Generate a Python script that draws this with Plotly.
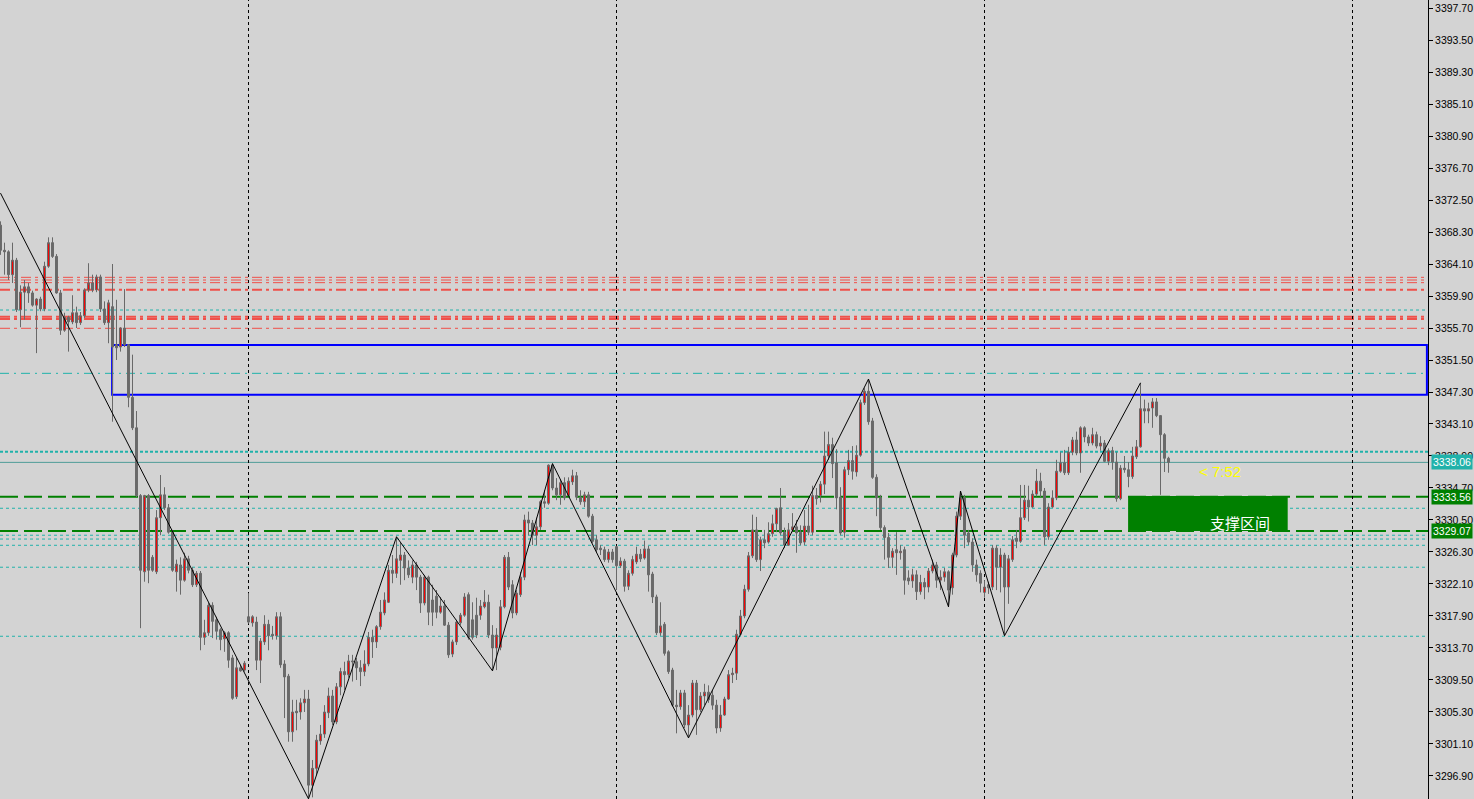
import plotly.graph_objects as go

# ---------------- data ----------------
bars = list(range(293))

opens = [
    3369.2, 3365.9, 3365.7, 3362.7, 3364.6, 3358.1, 3360.4, 3361.1, 3360.3, 3358.7,
    3359.5, 3358.2, 3363.8, 3366.9, 3365.1, 3360.3, 3355.4, 3357.1, 3356.5, 3357.7,
    3356.4, 3357.3, 3360.7, 3361.6, 3360.7, 3362.4, 3358.2, 3356.4, 3358.5, 3353.5,
    3353.2, 3355.7, 3353.5, 3346.6, 3342.6, 3333.7, 3323.7, 3333.7, 3325.6, 3323.7,
    3330.8, 3333.8, 3332.1, 3328.9, 3323.7, 3324.6, 3322.6, 3325.4, 3323.9, 3322.0,
    3323.5, 3315.1, 3315.7, 3319.3, 3317.4, 3316.1, 3314.9, 3315.7, 3312.4, 3307.3,
    3311.1, 3310.8, 3317.8, 3317.0, 3317.1, 3312.1, 3314.5, 3316.8, 3315.5, 3315.3,
    3317.8, 3311.6, 3310.0, 3302.7, 3305.4, 3305.3, 3306.5, 3307.0, 3295.7, 3297.9,
    3301.5, 3302.4, 3305.2, 3307.4, 3304.0, 3308.6, 3310.6, 3310.2, 3312.0, 3311.9,
    3311.1, 3310.6, 3311.6, 3315.1, 3314.5, 3316.5, 3318.3, 3319.7, 3323.9, 3323.5,
    3325.2, 3325.9, 3324.2, 3323.0, 3324.6, 3323.0, 3319.6, 3323.0, 3320.0, 3320.5,
    3318.4, 3319.2, 3316.7, 3312.9, 3314.5, 3317.0, 3318.0, 3320.7, 3317.4, 3318.0,
    3318.0, 3319.1, 3319.7, 3315.4, 3313.7, 3313.8, 3319.1, 3325.6, 3322.0, 3318.3,
    3320.7, 3323.0, 3330.5, 3330.1, 3328.5, 3329.6, 3332.9, 3332.7, 3337.7, 3334.7,
    3333.8, 3335.4, 3333.7, 3335.5, 3336.3, 3333.5, 3332.9, 3333.8, 3331.0, 3327.9,
    3326.8, 3326.6, 3325.3, 3326.3, 3327.0, 3324.5, 3325.1, 3321.8, 3323.5, 3325.0,
    3326.0, 3325.5, 3326.7, 3323.4, 3320.4, 3315.7, 3316.8, 3313.2, 3310.8, 3306.2,
    3306.0, 3307.8, 3303.6, 3304.9, 3309.1, 3305.6, 3307.4, 3307.9, 3307.5, 3306.2,
    3303.2, 3304.9, 3307.0, 3310.2, 3310.4, 3315.5, 3317.9, 3321.4, 3325.8, 3329.2,
    3325.3, 3327.9, 3327.6, 3328.7, 3330.0, 3332.1, 3328.9, 3327.2, 3329.2, 3329.6,
    3328.9, 3327.6, 3329.7, 3328.9, 3333.7, 3333.7, 3335.2, 3338.9, 3340.4, 3338.0,
    3333.5, 3328.9, 3337.1, 3338.3, 3336.8, 3339.0, 3345.9, 3347.4, 3343.5, 3336.1,
    3333.4, 3329.5, 3328.2, 3325.6, 3326.6, 3326.2, 3326.6, 3322.9, 3322.5, 3323.3,
    3321.1, 3322.3, 3321.7, 3323.8, 3324.6, 3322.6, 3323.0, 3323.7, 3321.6, 3325.9,
    3331.0, 3333.4, 3328.8, 3327.6, 3324.6, 3323.5, 3321.0, 3322.0, 3321.7, 3326.8,
    3324.3, 3325.9, 3321.7, 3325.3, 3328.1, 3327.7, 3330.8, 3333.1, 3332.2, 3333.9,
    3335.6, 3334.3, 3328.3, 3332.2, 3333.4, 3336.9, 3338.0, 3336.7, 3339.4, 3341.0,
    3339.3, 3342.6, 3341.4, 3340.6, 3341.7, 3340.2, 3340.6, 3338.2, 3339.6, 3338.1,
    3333.3, 3337.3, 3337.1, 3336.2, 3338.8, 3340.1, 3345.1, 3344.8, 3345.2, 3346.0,
    3344.2, 3341.7, 3338.6,
]

highs = [
    3369.7, 3366.9, 3365.9, 3366.9, 3364.9, 3361.3, 3362.0, 3361.6, 3360.6, 3359.6,
    3359.8, 3364.4, 3367.6, 3367.6, 3365.4, 3360.7, 3357.7, 3357.3, 3360.0, 3358.5,
    3357.8, 3360.9, 3364.2, 3362.7, 3362.7, 3362.7, 3359.2, 3359.4, 3364.1, 3359.4,
    3355.8, 3360.8, 3353.6, 3352.2, 3344.8, 3333.9, 3333.8, 3333.9, 3325.9, 3331.8,
    3336.4, 3334.8, 3332.6, 3329.2, 3325.3, 3325.6, 3326.2, 3325.8, 3324.3, 3323.8,
    3323.8, 3317.4, 3319.6, 3319.7, 3317.8, 3316.3, 3315.9, 3315.9, 3312.8, 3312.4,
    3311.5, 3312.0, 3320.9, 3318.0, 3317.8, 3315.0, 3318.0, 3317.4, 3316.6, 3318.4,
    3318.4, 3312.1, 3310.3, 3306.9, 3306.9, 3307.1, 3308.2, 3308.2, 3299.0, 3302.3,
    3303.6, 3306.2, 3308.5, 3308.2, 3309.1, 3311.1, 3311.9, 3312.8, 3312.8, 3312.4,
    3312.1, 3313.4, 3315.8, 3316.1, 3316.7, 3320.0, 3321.0, 3324.6, 3325.9, 3328.3,
    3327.5, 3326.3, 3325.2, 3325.2, 3325.0, 3323.3, 3323.3, 3323.2, 3322.0, 3321.3,
    3320.4, 3320.0, 3317.1, 3314.8, 3317.4, 3318.3, 3320.9, 3321.0, 3319.7, 3320.3,
    3320.0, 3321.3, 3320.7, 3316.7, 3316.3, 3320.0, 3325.9, 3326.3, 3322.6, 3321.3,
    3323.7, 3331.2, 3331.6, 3330.5, 3330.8, 3333.1, 3334.4, 3337.8, 3337.9, 3336.0,
    3335.8, 3336.1, 3336.1, 3337.1, 3336.8, 3334.4, 3334.2, 3334.2, 3331.3, 3328.5,
    3327.2, 3327.0, 3326.7, 3326.7, 3327.1, 3325.6, 3325.4, 3323.9, 3325.8, 3327.0,
    3326.7, 3327.8, 3327.1, 3323.7, 3320.7, 3319.7, 3317.1, 3313.4, 3311.1, 3308.2,
    3308.2, 3308.2, 3306.2, 3309.5, 3309.5, 3307.9, 3309.0, 3308.8, 3308.2, 3306.9,
    3306.2, 3307.3, 3310.8, 3311.1, 3316.1, 3318.7, 3322.0, 3326.3, 3331.2, 3330.9,
    3328.3, 3329.2, 3330.2, 3331.2, 3332.1, 3334.7, 3329.5, 3330.1, 3331.4, 3330.5,
    3329.8, 3331.8, 3332.5, 3335.0, 3334.7, 3335.6, 3342.1, 3342.1, 3341.3, 3339.8,
    3334.8, 3337.5, 3339.7, 3340.2, 3340.3, 3346.3, 3347.8, 3349.0, 3343.9, 3336.5,
    3333.8, 3329.8, 3328.8, 3326.8, 3328.9, 3327.2, 3327.0, 3323.9, 3324.1, 3323.9,
    3323.3, 3322.9, 3324.2, 3325.3, 3325.0, 3323.9, 3324.2, 3323.9, 3326.2, 3331.6,
    3334.3, 3333.8, 3329.2, 3328.1, 3325.3, 3323.9, 3322.6, 3322.4, 3327.2, 3327.2,
    3326.8, 3326.2, 3325.9, 3328.4, 3329.2, 3335.1, 3335.1, 3335.0, 3334.4, 3337.2,
    3336.7, 3334.7, 3332.7, 3334.4, 3338.4, 3339.4, 3339.7, 3340.1, 3341.4, 3342.1,
    3342.8, 3342.8, 3341.7, 3342.6, 3342.1, 3341.5, 3341.0, 3339.9, 3340.1, 3339.4,
    3337.7, 3338.9, 3338.1, 3340.1, 3341.0, 3348.5, 3346.3, 3345.9, 3346.5, 3346.5,
    3344.2, 3341.9, 3338.8,
]

lows = [
    3365.3, 3362.7, 3362.0, 3361.6, 3357.8, 3355.8, 3356.8, 3359.0, 3358.5, 3352.4,
    3357.9, 3357.9, 3363.6, 3364.9, 3360.2, 3354.8, 3355.2, 3352.6, 3356.2, 3355.7,
    3356.1, 3357.0, 3360.4, 3360.4, 3360.4, 3357.8, 3356.1, 3353.7, 3343.4, 3351.5,
    3352.6, 3353.2, 3345.3, 3342.3, 3333.5, 3316.3, 3322.4, 3322.2, 3323.7, 3323.4,
    3328.5, 3331.8, 3328.7, 3323.7, 3321.1, 3320.7, 3322.4, 3323.5, 3321.7, 3321.7,
    3313.4, 3314.1, 3315.3, 3315.0, 3314.8, 3313.4, 3313.2, 3311.1, 3306.9, 3307.0,
    3310.6, 3310.6, 3316.9, 3316.5, 3310.8, 3309.1, 3314.1, 3313.4, 3314.8, 3314.8,
    3311.1, 3304.5, 3301.4, 3301.4, 3302.9, 3304.3, 3305.3, 3293.9, 3294.1, 3297.0,
    3301.0, 3301.9, 3304.5, 3303.6, 3303.7, 3307.5, 3308.2, 3309.8, 3309.3, 3309.5,
    3308.7, 3310.0, 3311.3, 3312.4, 3313.7, 3316.1, 3318.0, 3319.6, 3322.2, 3322.9,
    3322.0, 3322.6, 3322.9, 3322.2, 3321.3, 3318.3, 3319.3, 3316.7, 3316.6, 3317.6,
    3318.2, 3316.6, 3312.4, 3312.5, 3314.1, 3316.7, 3317.8, 3314.8, 3314.8, 3315.0,
    3317.4, 3318.9, 3315.0, 3310.7, 3310.8, 3313.4, 3318.9, 3321.3, 3317.6, 3318.0,
    3320.4, 3322.6, 3328.5, 3327.2, 3327.2, 3329.2, 3332.1, 3332.5, 3334.4, 3333.1,
    3332.5, 3333.1, 3333.5, 3335.1, 3333.1, 3332.5, 3332.2, 3330.8, 3327.5, 3326.3,
    3325.9, 3325.0, 3324.9, 3324.9, 3321.3, 3324.2, 3321.1, 3321.3, 3323.2, 3324.7,
    3325.0, 3325.3, 3321.1, 3319.6, 3315.4, 3315.3, 3312.7, 3310.3, 3306.0, 3302.5,
    3305.6, 3303.2, 3301.9, 3304.6, 3302.3, 3305.3, 3306.2, 3306.5, 3305.6, 3302.5,
    3302.7, 3304.8, 3306.9, 3309.1, 3309.5, 3315.3, 3317.6, 3321.1, 3325.5, 3325.0,
    3323.8, 3326.8, 3327.4, 3328.3, 3328.9, 3328.5, 3326.8, 3327.1, 3328.9, 3326.2,
    3327.2, 3327.2, 3328.5, 3328.5, 3332.5, 3332.8, 3333.9, 3338.4, 3336.0, 3331.9,
    3328.5, 3328.2, 3336.4, 3335.8, 3336.2, 3338.8, 3345.6, 3343.0, 3335.9, 3331.0,
    3329.2, 3325.3, 3324.2, 3324.2, 3323.3, 3325.3, 3320.7, 3322.0, 3321.6, 3320.0,
    3320.7, 3320.1, 3321.0, 3323.5, 3321.6, 3321.3, 3322.4, 3319.1, 3320.7, 3325.6,
    3330.5, 3326.8, 3327.2, 3323.7, 3322.4, 3321.0, 3320.3, 3320.8, 3321.3, 3321.3,
    3321.0, 3315.3, 3319.5, 3325.0, 3326.8, 3327.5, 3330.5, 3330.3, 3332.1, 3333.6,
    3333.5, 3327.2, 3327.9, 3332.1, 3333.1, 3336.7, 3336.4, 3336.4, 3339.0, 3339.0,
    3336.7, 3340.7, 3340.2, 3340.3, 3339.9, 3339.6, 3338.1, 3337.7, 3337.1, 3332.9,
    3333.1, 3336.7, 3334.8, 3335.9, 3338.5, 3340.0, 3343.2, 3343.2, 3342.6, 3344.0,
    3333.8, 3336.8, 3336.7,
]

closes = [
    3365.9, 3365.7, 3362.7, 3364.6, 3358.1, 3360.4, 3361.1, 3360.3, 3358.7, 3359.5,
    3358.2, 3363.8, 3366.9, 3365.1, 3360.3, 3355.4, 3357.1, 3356.5, 3357.7, 3356.4,
    3357.3, 3360.7, 3361.6, 3360.7, 3362.4, 3358.2, 3356.4, 3359.0, 3353.2, 3353.1,
    3355.7, 3353.5, 3346.6, 3342.6, 3333.7, 3323.9, 3333.7, 3323.9, 3323.9, 3330.8,
    3333.8, 3332.1, 3328.9, 3323.9, 3324.7, 3322.6, 3325.4, 3323.9, 3322.0, 3323.5,
    3315.1, 3315.7, 3319.3, 3317.2, 3315.9, 3314.8, 3315.7, 3312.1, 3307.1, 3311.1,
    3310.7, 3311.7, 3317.1, 3317.8, 3312.1, 3314.6, 3316.8, 3315.3, 3315.3, 3317.8,
    3311.5, 3309.9, 3302.7, 3305.3, 3305.2, 3306.5, 3307.0, 3295.7, 3297.9, 3301.6,
    3302.4, 3305.3, 3307.4, 3304.0, 3308.6, 3310.6, 3310.2, 3312.0, 3311.9, 3311.1,
    3310.6, 3311.6, 3315.1, 3314.5, 3316.5, 3318.4, 3320.0, 3323.9, 3323.5, 3325.4,
    3325.9, 3324.2, 3323.3, 3324.6, 3323.0, 3319.6, 3323.0, 3318.4, 3318.4, 3318.4,
    3319.2, 3316.7, 3312.8, 3314.5, 3317.1, 3318.0, 3320.4, 3315.1, 3315.1, 3315.4,
    3319.2, 3319.7, 3315.4, 3313.7, 3315.4, 3319.1, 3325.6, 3321.7, 3318.3, 3320.9,
    3323.0, 3330.5, 3330.1, 3328.5, 3329.6, 3332.9, 3332.7, 3337.7, 3334.7, 3333.8,
    3335.4, 3333.4, 3335.6, 3336.3, 3333.5, 3332.9, 3333.8, 3331.0, 3327.7, 3326.6,
    3326.6, 3325.3, 3326.3, 3325.3, 3324.5, 3325.1, 3321.8, 3323.5, 3325.3, 3326.0,
    3325.4, 3326.7, 3323.3, 3320.4, 3315.7, 3316.6, 3313.0, 3310.6, 3306.2, 3306.0,
    3307.8, 3303.6, 3304.9, 3309.1, 3305.6, 3307.4, 3307.9, 3306.9, 3306.2, 3303.2,
    3304.9, 3307.0, 3310.2, 3310.4, 3315.5, 3317.9, 3321.4, 3325.8, 3329.2, 3325.3,
    3327.9, 3327.5, 3328.7, 3330.0, 3332.0, 3328.8, 3327.2, 3329.2, 3329.6, 3328.8,
    3327.5, 3329.7, 3328.9, 3333.7, 3333.3, 3335.2, 3338.9, 3340.4, 3337.9, 3333.4,
    3328.8, 3337.1, 3338.3, 3336.9, 3339.0, 3345.9, 3347.4, 3343.4, 3336.1, 3333.4,
    3329.5, 3328.2, 3325.6, 3326.4, 3326.2, 3326.4, 3322.6, 3322.5, 3323.3, 3321.1,
    3322.3, 3321.7, 3323.8, 3324.6, 3322.6, 3323.0, 3323.7, 3321.3, 3325.9, 3331.0,
    3333.4, 3328.5, 3327.6, 3324.6, 3323.3, 3322.2, 3321.7, 3321.6, 3326.8, 3324.3,
    3325.9, 3321.7, 3325.4, 3327.9, 3327.7, 3330.8, 3333.1, 3332.2, 3333.9, 3335.6,
    3334.3, 3328.3, 3332.2, 3333.4, 3336.9, 3338.0, 3336.7, 3339.4, 3341.0, 3339.3,
    3342.6, 3341.4, 3340.6, 3341.7, 3340.2, 3340.6, 3338.2, 3339.6, 3338.1, 3333.3,
    3337.3, 3337.1, 3336.2, 3338.9, 3340.1, 3345.1, 3344.8, 3345.1, 3346.0, 3344.2,
    3341.7, 3338.6, 3338.06,
]

zigzag_bars = [0, 77, 99, 123, 138, 172, 217, 237, 240, 251, 285]
zigzag_prices = [3373.4, 3293.9, 3328.3, 3310.7, 3337.9, 3301.9, 3349.0, 3319.1, 3334.3, 3315.3, 3348.5]

red_levels_thin = [3362.35, 3362.0, 3361.65, 3355.66]
red_levels_thick = [3360.73, 3357.18, 3356.88]
teal_dotted_levels = [3358.06, 3332.04, 3328.5, 3328.0, 3327.18, 3324.3, 3315.24]
teal_bold_dotted_levels = [3339.46]
teal_dashdot_levels = [3349.75]
support_levels = [3333.56, 3329.07]
last_price = 3338.06
box_prices = [3353.47, 3346.95]
day_start_bars = [62, 154, 246, 338]

tick_labels = ["3397.70", "3393.50", "3389.30", "3385.10", "3380.90", "3376.70",
               "3372.50", "3368.30", "3364.10", "3359.90", "3355.70", "3351.50",
               "3347.30", "3343.10", "3338.90", "3334.70", "3330.50", "3326.30",
               "3322.10", "3317.90", "3313.70", "3309.50", "3305.30", "3301.10",
               "3296.90"]

support_text = "支撑区间"
timer_text = "< 7:52"

# ---------------- figure ----------------
BG = "#d3d3d3"
GRAY = "#696969"
TEAL = "#20b2aa"
GREEN = "#008000"

fig = go.Figure()

fig.add_trace(go.Candlestick(
    x=bars, open=opens, high=highs, low=lows, close=closes,
    increasing=dict(fillcolor="#ff0000", line=dict(color=GRAY, width=1)),
    decreasing=dict(fillcolor=GRAY, line=dict(color=GRAY, width=1)),
    whiskerwidth=0, hoverinfo="skip", showlegend=False,
))

fig.add_trace(go.Scatter(
    x=zigzag_bars, y=zigzag_prices, mode="lines",
    line=dict(color="#000000", width=1), hoverinfo="skip", showlegend=False,
))

shapes = []


def hline(price, color, width, dash):
    shapes.append(dict(type="line", xref="paper", x0=0, x1=1, yref="y",
                       y0=price, y1=price, layer="below",
                       line=dict(color=color, width=width, dash=dash)))


for p in red_levels_thin:
    hline(p, "#f0504a", 1, "10px,4px,3px,4px")
for p in red_levels_thick:
    hline(p, "#f0504a", 2, "10px,4px,3px,4px")
for p in teal_dotted_levels:
    hline(p, TEAL, 1, "3px,3px")
for p in teal_bold_dotted_levels:
    hline(p, TEAL, 2, "3px,2px")
for p in teal_dashdot_levels:
    hline(p, TEAL, 1, "9px,5px,2px,5px")
hline(last_price, "#4f9c98", 1, "solid")

# support levels, then the filled zone on top of them
for p in support_levels:
    hline(p, GREEN, 2, "18px,6px")
shapes.append(dict(type="rect", xref="x", yref="y", x0=281.9, x1=321.8,
                   y0=support_levels[1], y1=support_levels[0] + 0.1,
                   fillcolor=GREEN, line=dict(width=0), layer="below"))

# blue box
shapes.append(dict(type="rect", xref="x", yref="y", x0=27.9, x1=356.6,
                   y0=box_prices[1], y1=box_prices[0],
                   line=dict(color="#0000ff", width=2), fillcolor="rgba(0,0,0,0)",
                   layer="below"))

# day separators
for b in day_start_bars:
    shapes.append(dict(type="line", xref="x", yref="paper", x0=b, x1=b, y0=0, y1=1,
                       layer="below", line=dict(color="#000000", width=1, dash="3px,3px")))

annotations = [
    dict(x=309.9, y=3330.2, xref="x", yref="y", text=support_text, showarrow=False,
         font=dict(family="Noto Sans CJK SC", size=15, color="#ffffff")),
    dict(x=304.9, y=3336.8, xref="x", yref="y", text=timer_text, showarrow=False,
         font=dict(family="Liberation Sans", size=15, color="#ffff00")),
]
for price, col in [(last_price, TEAL), (support_levels[0], GREEN), (support_levels[1], GREEN)]:
    annotations.append(dict(x=1, xref="paper", y=price, yref="y", xanchor="left",
                            xshift=3, text=f"{price:.2f}", showarrow=False,
                            bgcolor=col, borderpad=1,
                            font=dict(family="Liberation Sans", size=10.5, color="#ffffff")))

fig.update_layout(
    width=1474, height=799,
    margin=dict(l=0, r=46, t=0, b=0),
    plot_bgcolor=BG, paper_bgcolor=BG,
    showlegend=False,
    shapes=shapes, annotations=annotations,
    xaxis=dict(range=[-0.125, 356.875], visible=False, rangeslider=dict(visible=False),
               showgrid=False, zeroline=False),
    yaxis=dict(side="right", range=[3293.88, 3398.75],
               tickvals=[float(t) for t in tick_labels], ticktext=tick_labels,
               ticks="outside", ticklen=4, tickcolor="#000000",
               showline=True, linecolor="#000000", linewidth=1,
               showgrid=False, zeroline=False,
               tickfont=dict(family="Liberation Sans", size=10.5, color="#000000")),
)

fig.write_html("out.html",
               config={"displayModeBar": False},
               post_script="document.body.style.margin='0';document.body.style.overflow='hidden';")
